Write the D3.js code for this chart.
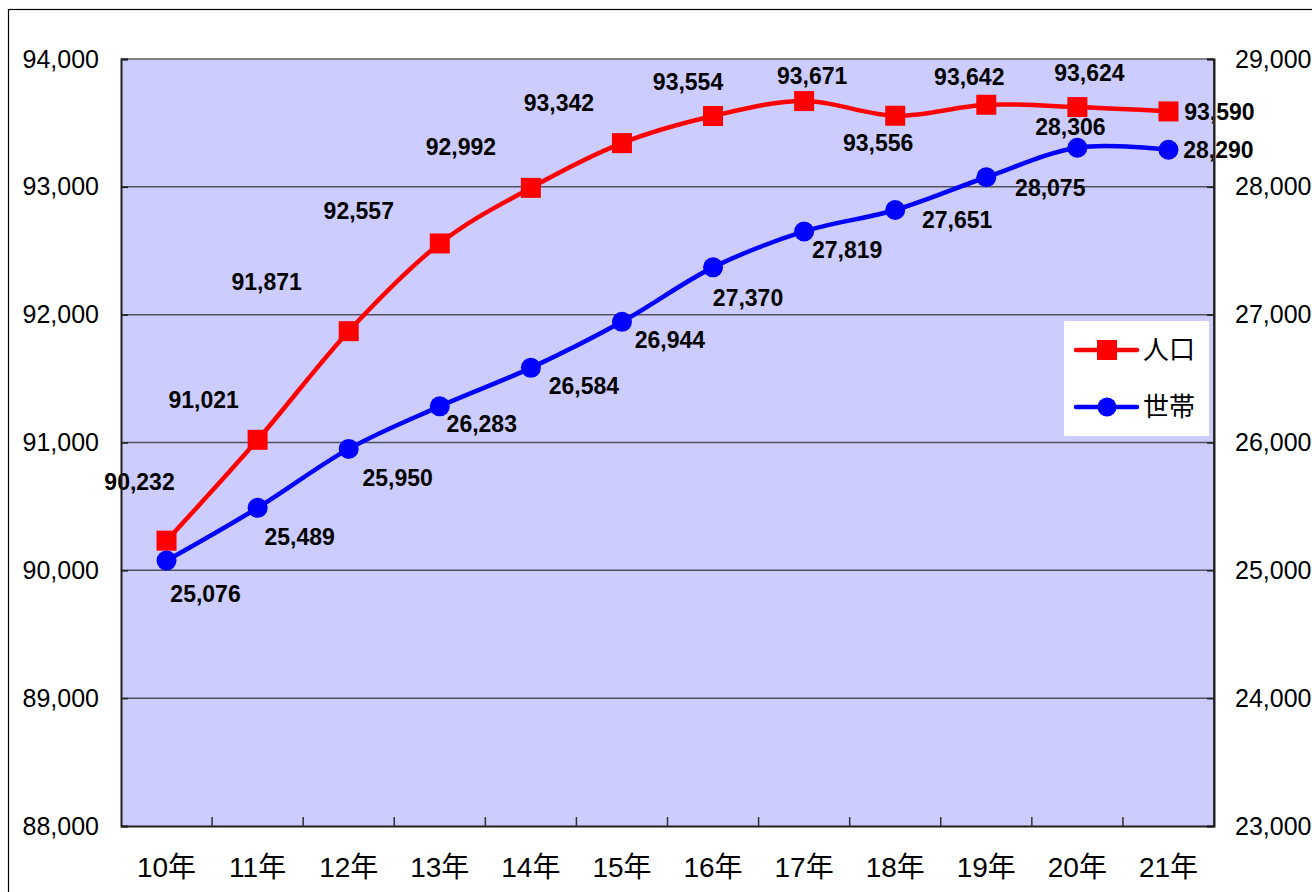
<!DOCTYPE html>
<html>
<head>
<meta charset="utf-8">
<script src="https://cdn.jsdelivr.net/npm/d3@7"></script>
<style>
body { margin: 0; background: #fff; }
text { font-family: "Liberation Sans", Arial, "Noto Sans CJK JP", sans-serif; }
</style>
</head>
<body>
<div id="chart"></div>
<script>
// data
var years      = ["10年","11年","12年","13年","14年","15年","16年","17年","18年","19年","20年","21年"];
var population = [90232, 91021, 91871, 92557, 92992, 93342, 93554, 93671, 93556, 93642, 93624, 93590];
var households = [25076, 25489, 25950, 26283, 26584, 26944, 27370, 27651, 27819, 28075, 28306, 28290];
var leftTicks  = [88000, 89000, 90000, 91000, 92000, 93000, 94000];
var rightTicks = [23000, 24000, 25000, 26000, 27000, 28000, 29000];
var seriesNames = ["人口", "世帯"];

// where each value label sits relative to its point (px)
var popLabelOffset = [[-27,-59],[-54,-40],[-82,-49],[-81,-33],[-70,-41],[-63,-40],
                      [-25,-34],[8,-25],[-17,27],[-17,-28],[12,-34],[51,0]];
var hhLabelOffset  = [[39,33],[42,29],[49,29],[42,17],[53,18],[48,18],
                      [35,30],[153,-12],[-48,40],[64,10],[-7,-21],[50,0]];

var PopulationPlot = function(target){
	this.target = target;
	this.width = 1312;
	this.height = 892;
	this.margin = {top: 59, right: 98, bottom: 66, left: 121};
	this.setupSVG();
	this.setupScales();
	this.drawFrame();
	this.drawSeries(population, this.yL, "#ff0000", "square", popLabelOffset);
	this.drawSeries(households, this.yR, "#0000ff", "circle", hhLabelOffset);
	this.drawAxes();
	this.drawLegend();
};

PopulationPlot.prototype.setupSVG = function(){
	this.svg = d3.select("#" + this.target).append("svg")
		.attr("width", this.width)
		.attr("height", this.height);
	// outer chart border (runs off the right/bottom edges)
	this.svg.append("rect")
		.attr("x", 8.5).attr("y", 9.5)
		.attr("width", 1320).attr("height", 900)
		.attr("fill", "#fff")
		.attr("stroke", "#000")
		.attr("stroke-width", 1.2);
};

PopulationPlot.prototype.setupScales = function(){
	var m = this.margin;
	this.x = d3.scaleBand()
		.domain(years)
		.range([m.left, this.width - m.right]);
	this.yL = d3.scaleLinear()
		.domain([88000, 94000])
		.range([this.height - m.bottom, m.top]);
	this.yR = d3.scaleLinear()
		.domain([23000, 29000])
		.range([this.height - m.bottom, m.top]);
};

PopulationPlot.prototype.drawFrame = function(){
	var self = this;
	var x0 = this.x.range()[0], x1 = this.x.range()[1];
	var yb = this.yL.range()[0], yt = this.yL.range()[1];
	this.svg.append("rect")
		.attr("x", x0).attr("y", yt)
		.attr("width", x1 - x0).attr("height", yb - yt)
		.attr("fill", "#ccccff");

	this.svg.append("g").attr("class", "grid")
		.selectAll("line")
		.data(leftTicks.slice(1, -1))
		.enter().append("line")
		.attr("x1", x0).attr("x2", x1)
		.attr("y1", function(d){ return self.yL(d); })
		.attr("y2", function(d){ return self.yL(d); })
		.attr("stroke", "#505060")
		.attr("stroke-width", 1.5);
};

PopulationPlot.prototype.drawSeries = function(values, yScale, color, shape, offsets){
	var self = this;
	var cx = function(d, i){ return self.x(years[i]) + self.x.bandwidth() / 2; };
	var line = d3.line()
		.x(cx)
		.y(function(d){ return yScale(d); })
		.curve(d3.curveCatmullRom.alpha(0));

	this.svg.append("path")
		.datum(values)
		.attr("d", line)
		.attr("fill", "none")
		.attr("stroke", color)
		.attr("stroke-width", 4.5)
		.attr("stroke-linejoin", "round");

	var g = this.svg.append("g");
	if(shape == "square"){
		g.selectAll("rect").data(values).enter().append("rect")
			.attr("x", function(d, i){ return cx(d, i) - 10; })
			.attr("y", function(d){ return yScale(d) - 10; })
			.attr("width", 20).attr("height", 20)
			.attr("fill", color);
	}else{
		g.selectAll("circle").data(values).enter().append("circle")
			.attr("cx", cx)
			.attr("cy", function(d){ return yScale(d); })
			.attr("r", 10)
			.attr("fill", color);
	}

	var fmt = d3.format(",");
	this.svg.append("g").selectAll("text").data(values).enter().append("text")
		.attr("x", function(d, i){ return cx(d, i) + offsets[i][0]; })
		.attr("y", function(d, i){ return yScale(d) + offsets[i][1]; })
		.attr("dy", "0.36em")
		.attr("text-anchor", "middle")
		.attr("font-size", 23)
		.attr("font-weight", "bold")
		.attr("fill", "#000")
		.text(function(d){ return fmt(d); });
};

PopulationPlot.prototype.drawAxes = function(){
	var self = this;
	var fmt = d3.format(",");
	var x0 = this.x.range()[0], x1 = this.x.range()[1];
	var yb = this.yL.range()[0], yt = this.yL.range()[1];

	// plot border
	this.svg.append("line").attr("x1", x0).attr("x2", x1).attr("y1", yt).attr("y2", yt)
		.attr("stroke", "#808080").attr("stroke-width", 2);
	this.svg.append("line").attr("x1", x1).attr("x2", x1).attr("y1", yt).attr("y2", yb)
		.attr("stroke", "#404040").attr("stroke-width", 2);

	var left = this.svg.append("g").attr("class", "y axis")
		.attr("transform", "translate(" + x0 + ",0)")
		.call(d3.axisLeft(this.yL).tickValues(leftTicks).tickFormat(fmt).tickSize(-7).tickPadding(22));
	var right = this.svg.append("g").attr("class", "y2 axis")
		.attr("transform", "translate(" + x1 + ",0)")
		.call(d3.axisRight(this.yR).tickValues(rightTicks).tickFormat(fmt).tickSize(-7).tickPadding(21));
	[left, right].forEach(function(ax){
		ax.select(".domain").attr("stroke", "#202020").attr("stroke-width", 2);
		ax.selectAll(".tick line").attr("stroke", "#202020").attr("stroke-width", 1.5);
		ax.selectAll(".tick text").attr("font-size", 25).attr("fill", "#000")
			.attr("font-family", "'Liberation Sans', Arial, sans-serif");
	});

	var bottom = this.svg.append("g").attr("class", "x axis")
		.attr("transform", "translate(0," + yb + ")")
		.call(d3.axisBottom(this.x).tickSize(0).tickPadding(0));
	bottom.select(".domain").attr("stroke", "#202020").attr("stroke-width", 2);
	bottom.selectAll(".tick text")
		.attr("font-size", 28)
		.attr("fill", "#000")
		.attr("y", 51)
		.attr("dy", 0)
		.attr("font-family", "'Liberation Sans', Arial, 'Noto Sans CJK JP', sans-serif");

	// inward ticks between categories
	this.svg.append("g").selectAll("line")
		.data(years.slice(1))
		.enter().append("line")
		.attr("x1", function(d){ return self.x(d); })
		.attr("x2", function(d){ return self.x(d); })
		.attr("y1", yb).attr("y2", yb - 9)
		.attr("stroke", "#303030").attr("stroke-width", 1.5);
};

PopulationPlot.prototype.drawLegend = function(){
	var colors = ["#ff0000", "#0000ff"];
	var lg = this.svg.append("g").attr("transform", "translate(1064,321)");
	lg.append("rect").attr("width", 145).attr("height", 115).attr("fill", "#fff");
	var items = lg.selectAll("g.item").data(seriesNames).enter().append("g")
		.attr("class", "item")
		.attr("transform", function(d, i){ return "translate(0," + (29 + i * 57) + ")"; });
	items.append("line")
		.attr("x1", 12).attr("x2", 73).attr("y1", 0).attr("y2", 0)
		.attr("stroke", function(d, i){ return colors[i]; })
		.attr("stroke-width", 4.5).attr("stroke-linecap", "round");
	items.each(function(d, i){
		var it = d3.select(this);
		if(i == 0){
			it.append("rect").attr("x", 33).attr("y", -10).attr("width", 20).attr("height", 20).attr("fill", colors[i]);
		}else{
			it.append("circle").attr("cx", 43).attr("cy", 0).attr("r", 9.5).attr("fill", colors[i]);
		}
	});
	items.append("text")
		.attr("x", 79).attr("y", 0).attr("dy", "0.36em")
		.attr("font-size", 26)
		.attr("font-family", "'Noto Sans CJK JP', sans-serif")
		.attr("fill", "#000")
		.text(function(d){ return d; });
};

new PopulationPlot("chart");
</script>
</body>
</html>
